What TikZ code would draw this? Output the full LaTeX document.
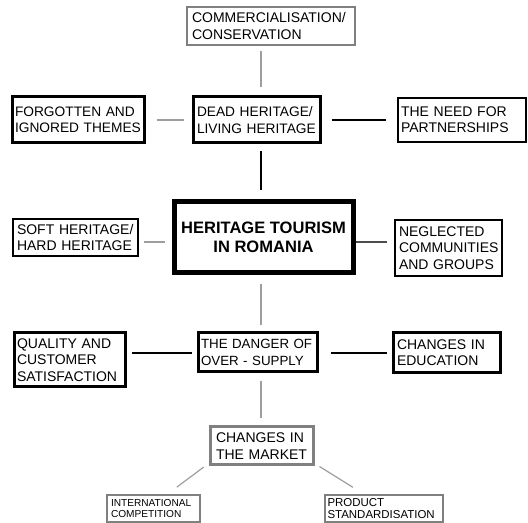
\documentclass[tikz,border=0pt]{standalone}
\usepackage{fontspec}
\setmainfont{Liberation Sans}
\usetikzlibrary{calc}
\definecolor{gline}{gray}{0.62}
\definecolor{gbox}{gray}{0.50}
\tikzset{
  bx/.style={draw, inner ysep=0pt, align=left, font=\fontsize{10.5}{12.2}\selectfont,
    execute at begin node={\hyphenpenalty=10000\exhyphenpenalty=10000\hbadness=10000\hfuzz=20pt\relax}},
  blk/.style={bx, draw=black, line width=2.25pt},
  gry/.style={bx, draw=gbox, line width=2pt},
  gconn/.style={draw=gline, line width=0.9pt},
  bconn/.style={draw=black, line width=0.9pt},
}
\begin{document}
\begin{tikzpicture}[x=0.75pt,y=-0.75pt]
\useasboundingbox (0,0) rectangle (528,523);
\coordinate (ax) at (261,0);
\coordinate (r1) at (0,242);
\coordinate (r2) at (0,353);

\node[gry, line width=1.9pt, text width=118.5pt, inner xsep=3.75pt, minimum height=28.5pt] (C) at (271,26) {COMMERCIALISATION/\\CONSERVATION};
\node[blk, text width=94.5pt, inner xsep=2.25pt, minimum height=34.5pt, font=\fontsize{10.3}{12.2}\selectfont] (F) at (78,120) {FORGOTTEN~AND\\IGNORED~THEMES};
\node[blk, text width=89.25pt, inner xsep=3pt, minimum height=34.5pt, font=\fontsize{10.3}{12.2}\selectfont] (D) at (256.5,120) {DEAD~HERITAGE/\\LIVING~HERITAGE};
\node[blk, line width=1.7pt, text width=91.5pt, inner xsep=2.25pt, minimum height=33pt] (N) at (462,120) {THE~NEED~FOR\\PARTNERSHIPS};
\node[bx, draw=black, line width=3.75pt, align=center, minimum width=134.25pt, minimum height=53.25pt, font=\fontsize{12.4}{14.5}\selectfont\bfseries] (H) at (263.5,237.5) {HERITAGE TOURISM\\IN ROMANIA};
\node[blk, line width=1.9pt, text width=87.75pt, inner xsep=3pt, minimum height=27.75pt] (S) at (75.5,237.5) {SOFT~HERITAGE/\\HARD~HERITAGE};
\node[blk, line width=1.9pt, text width=74.25pt, inner xsep=3pt, minimum height=42pt] (G) at (448.5,248) {NEGLECTED\\COMMUNITIES\\AND~GROUPS};
\node[blk, text width=78.75pt, inner xsep=2.25pt, minimum height=40.5pt] (Q) at (69.5,360) {QUALITY~AND\\CUSTOMER\\SATISFACTION};
\node[blk, text width=84.75pt, inner xsep=2.25pt, minimum height=29.25pt, font=\fontsize{10}{12.2}\selectfont] (Dg) at (257.5,352.5) {THE~DANGER~OF\\OVER~-~SUPPLY};
\node[blk, text width=74.25pt, inner xsep=3pt, minimum height=30pt] (E) at (446.5,353) {CHANGES~IN\\EDUCATION};
\node[gry, line width=2.25pt, text width=68.25pt, inner xsep=4.5pt, minimum height=28.5pt] (M) at (261.5,446) {CHANGES~IN\\THE~MARKET};
\node[gry, line width=1.9pt, text width=63.75pt, inner xsep=3pt, minimum height=20.25pt, font=\fontsize{7.6}{8.3}\selectfont] (I) at (153.5,508.5) {INTERNATIONAL\\COMPETITION};
\node[gry, line width=1.5pt, text width=84.75pt, inner xsep=1.9pt, minimum height=20.25pt, font=\fontsize{8.6}{9}\selectfont] (P) at (384,508.5) {PRODUCT\\STANDARDISATION};

\draw[gconn, shorten <=3.75pt, shorten >=6pt] (C.south -| ax) -- (D.north -| ax);
\draw[gconn, shorten <=8.25pt, shorten >=6pt] (F.east) -- (D.west);
\draw[bconn, shorten <=7.5pt, shorten >=8.25pt] (D.east) -- (N.west);
\draw[bconn, shorten <=5.25pt, shorten >=6.75pt] (D.south -| ax) -- (H.north -| ax);
\draw[gconn, shorten <=3.75pt, shorten >=5.25pt] (S.east |- r1) -- (H.west |- r1);
\draw[draw=black!70, line width=0.9pt, shorten >=5.25pt] (H.east |- r1) -- (G.west |- r1);
\draw[gconn, shorten <=6.75pt, shorten >=4.5pt] (H.south -| ax) -- (Dg.north -| ax);
\draw[bconn, shorten <=3.75pt, shorten >=3.75pt] (Q.east |- r2) -- (Dg.west |- r2);
\draw[bconn, shorten <=9pt, shorten >=3.75pt] (Dg.east |- r2) -- (E.west |- r2);
\draw[gconn, shorten <=6pt, shorten >=5.25pt] (Dg.south -| ax) -- (M.north -| ax);
\draw[gconn, shorten <=0.75pt, shorten >=8.25pt] ($(M.south west)+(-4,0)$) -- ($(I.north)+(14.5,0)$);
\draw[gconn, shorten >=9.5pt] ($(M.south east)+(5,0)$) -- ($(P.north)+(-20.4,0)$);
\end{tikzpicture}
\end{document}
